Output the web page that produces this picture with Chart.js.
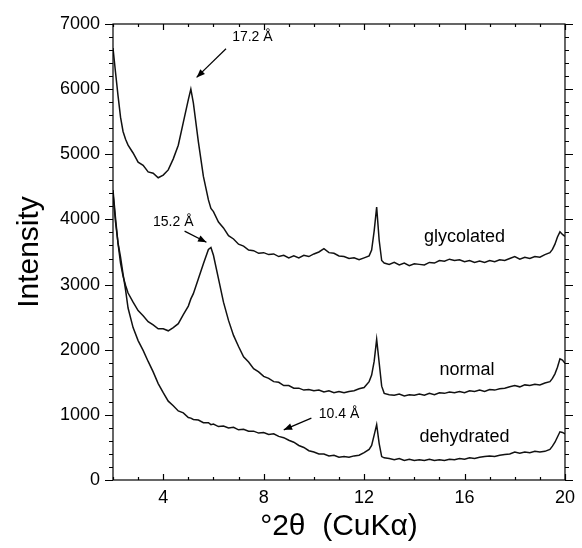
<!DOCTYPE html>
<html>
<head>
<meta charset="utf-8">
<script src="https://cdn.jsdelivr.net/npm/chart.js@4"></script>
<style>
  html, body { margin: 0; background: #fff; }
  canvas { display: block; }
</style>
</head>
<body>
<canvas id="xrd" width="582" height="548"></canvas>
<script>
// ===== Data =====
const twoTheta = [
  2.0, 2.1, 2.2, 2.3, 2.4, 2.5, 2.6, 2.8, 3.0, 3.2,
  3.4, 3.6, 3.8, 4.0, 4.2, 4.4, 4.6, 4.8, 5.0, 5.1,
  5.2, 5.4, 5.6, 5.8, 5.9, 6.0, 6.2, 6.4, 6.6, 6.8,
  7.0, 7.2, 7.4, 7.6, 7.8, 8.0, 8.2, 8.4, 8.6, 8.8,
  9.0, 9.2, 9.4, 9.6, 9.8, 10.0, 10.2, 10.4, 10.6, 10.8,
  11.0, 11.2, 11.4, 11.6, 11.8, 12.0, 12.2, 12.3, 12.4, 12.5,
  12.6, 12.7, 12.8, 13.0, 13.2, 13.4, 13.6, 13.8, 14.0, 14.2,
  14.4, 14.6, 14.8, 15.0, 15.2, 15.4, 15.6, 15.8, 16.0, 16.2,
  16.4, 16.6, 16.8, 17.0, 17.2, 17.4, 17.6, 17.8, 18.0, 18.2,
  18.4, 18.6, 18.8, 19.0, 19.2, 19.4, 19.5, 19.6, 19.7, 19.8,
  19.9, 20.0
];
const glycolated = [
  6630, 6260, 5900, 5570, 5350, 5230, 5140, 5020, 4880, 4830,
  4730, 4710, 4640, 4680, 4760, 4930, 5140, 5490, 5840, 6000,
  5790, 5190, 4660, 4300, 4170, 4120, 3960, 3870, 3750, 3700,
  3620, 3590, 3530, 3520, 3480, 3490, 3460, 3470, 3430, 3450,
  3410, 3440, 3410, 3450, 3430, 3470, 3500, 3550, 3490, 3480,
  3440, 3430, 3400, 3410, 3380, 3410, 3440, 3530, 3820, 4190,
  3680, 3370, 3330, 3310, 3340, 3300, 3330, 3290, 3320, 3310,
  3300, 3340, 3330, 3370, 3360, 3390, 3370, 3380, 3350, 3370,
  3340, 3360, 3340, 3370, 3350, 3380, 3370, 3400, 3430, 3390,
  3420, 3400, 3430, 3420, 3460, 3490, 3540, 3620, 3730, 3810,
  3770, 3740
];
const normal = [
  4450, 4020, 3630, 3330, 3130, 2990, 2870, 2730, 2600, 2520,
  2430, 2380, 2320, 2320, 2290, 2340, 2400, 2540, 2670, 2780,
  2860, 3090, 3320, 3540, 3570, 3450, 3090, 2730, 2450, 2220,
  2050, 1890, 1810, 1710, 1660, 1590, 1560, 1510, 1500, 1450,
  1450, 1410, 1410, 1380, 1390, 1370, 1380, 1350, 1370, 1340,
  1360, 1340, 1360, 1370, 1400, 1420, 1510, 1610, 1820, 2160,
  1800, 1440, 1330, 1310, 1300, 1320, 1290, 1310, 1300, 1320,
  1300, 1330, 1310, 1340, 1330, 1350, 1340, 1360, 1340, 1370,
  1360, 1380, 1360, 1390, 1380, 1400, 1410, 1430, 1450, 1430,
  1460, 1450, 1470, 1460, 1490, 1510, 1560, 1630, 1730, 1860,
  1840, 1790
];
const dehydrated = [
  4400, 3960, 3640, 3420, 3160, 2920, 2640, 2340, 2140, 1990,
  1820, 1660, 1480, 1340, 1210, 1140, 1060, 1030, 960, 950,
  930, 920, 880, 880, 850, 860, 820, 830, 800, 810,
  770, 780, 750, 750, 720, 730, 700, 710, 670, 650,
  610, 580, 530, 500, 450, 430, 400, 400, 370, 380,
  350, 360, 350, 370, 380, 420, 470, 530, 690, 850,
  560, 360, 340, 330, 310, 330, 300, 320, 300, 310,
  300, 320, 300, 310, 300, 320, 310, 330, 320, 340,
  330, 350, 360, 370, 360, 380, 390, 400, 430, 410,
  430, 420, 440, 430, 440, 470, 520, 580, 660, 740,
  730, 710
];
const seriesNames = ["glycolated", "normal", "dehydrated"];
const xTicks = [4, 8, 12, 16, 20];
const yTicks = [0, 1000, 2000, 3000, 4000, 5000, 6000, 7000];
const peakLabels = ["17.2 Å", "15.2 Å", "10.4 Å"];

// ===== Annotation placement (in data units) =====
const namePos = [[16.0, 3730], [16.1, 1690], [16.0, 660]];
const peakTextPos = [[7.55, 6800], [4.4, 3960], [11.0, 1010]];
const peakArrows = [
  [[6.5, 6620], [5.33, 6180]],
  [[4.85, 3820], [5.72, 3650]],
  [[9.9, 950], [8.8, 770]]
];
const X_MINOR = 1, Y_MINOR = 200;

const FONT = '"Liberation Sans", Arial, Helvetica, sans-serif';

function arrow(ctx, x0, y0, x1, y1) {
  ctx.beginPath(); ctx.moveTo(x0, y0); ctx.lineTo(x1, y1); ctx.stroke();
  const a = Math.atan2(y1 - y0, x1 - x0), h = 9, w = 0.38;
  ctx.beginPath();
  ctx.moveTo(x1, y1);
  ctx.lineTo(x1 - h * Math.cos(a - w), y1 - h * Math.sin(a - w));
  ctx.lineTo(x1 - h * Math.cos(a + w), y1 - h * Math.sin(a + w));
  ctx.closePath(); ctx.fill();
}

// frame + inward x ticks, outward y ticks, labels and arrows
const decor = {
  id: "decor",
  afterDatasetsDraw(chart) {
    const { ctx, scales: { x, y } } = chart;
    ctx.save();
    ctx.fillStyle = "#000"; ctx.strokeStyle = "#000"; ctx.lineWidth = 1.2;
    ctx.textAlign = "center"; ctx.textBaseline = "middle";
    ctx.font = `18px ${FONT}`;
    seriesNames.forEach((n, i) => ctx.fillText(n, x.getPixelForValue(namePos[i][0]), y.getPixelForValue(namePos[i][1])));
    ctx.font = `14px ${FONT}`;
    peakLabels.forEach((t, i) => {
      ctx.fillText(t, x.getPixelForValue(peakTextPos[i][0]), y.getPixelForValue(peakTextPos[i][1]));
      const [p0, p1] = peakArrows[i];
      arrow(ctx, x.getPixelForValue(p0[0]), y.getPixelForValue(p0[1]), x.getPixelForValue(p1[0]), y.getPixelForValue(p1[1]));
    });
    ctx.restore();
  },
  afterDraw(chart) {
    const { ctx, chartArea: a, scales: { x, y } } = chart;
    ctx.save();
    ctx.strokeStyle = "#000"; ctx.lineWidth = 1.2;
    ctx.strokeRect(a.left, a.top, a.right - a.left, a.bottom - a.top);
    ctx.beginPath();
    for (let v = x.min; v <= x.max + 1e-9; v += X_MINOR) {
      const px = Math.round(x.getPixelForValue(v)) + 0.5;
      const len = xTicks.includes(v) ? 6 : 3;
      ctx.moveTo(px, a.bottom); ctx.lineTo(px, a.bottom - len);
      ctx.moveTo(px, a.top); ctx.lineTo(px, a.top + len);
    }
    for (let v = y.min; v <= y.max; v += Y_MINOR) {
      const py = Math.round(y.getPixelForValue(v)) + 0.5;
      const len = yTicks.includes(v) ? 8 : 4;
      ctx.moveTo(a.left - len, py); ctx.lineTo(a.left, py);
      ctx.moveTo(a.right, py); ctx.lineTo(a.right + len, py);
    }
    ctx.stroke();
    ctx.restore();
  }
};

new Chart(document.getElementById("xrd"), {
  type: "line",
  data: {
    datasets: [glycolated, normal, dehydrated].map((ys, i) => ({
      label: seriesNames[i],
      data: twoTheta.map((t, j) => ({ x: t, y: ys[j] })),
      borderColor: "#111", borderWidth: 1.5, pointRadius: 0, tension: 0, fill: false
    }))
  },
  options: {
    responsive: false, animation: false,
    layout: { padding: { left: 0, right: 14, top: 24, bottom: 0 } },
    plugins: { legend: { display: false }, tooltip: { enabled: false } },
    scales: {
      x: {
        type: "linear", min: 2, max: 20,
        afterBuildTicks: s => { s.ticks = xTicks.map(v => ({ value: v })); },
        afterFit: s => { s.height = 68; },
        grid: { display: false, drawTicks: false }, border: { display: false },
        ticks: { padding: 7, color: "#000", font: { family: FONT, size: 18 }, maxRotation: 0, autoSkip: false, callback: v => String(v) },
        title: { display: true, text: "°2θ  (CuKα)", color: "#000", font: { family: FONT, size: 30 }, padding: { top: 0, bottom: 3 } }
      },
      y: {
        min: 0, max: 7000,
        afterBuildTicks: s => { s.ticks = yTicks.map(v => ({ value: v })); },
        afterFit: s => { s.width = 113; },
        grid: { display: false, drawTicks: false }, border: { display: false },
        ticks: { padding: 13, color: "#000", font: { family: FONT, size: 18 }, callback: v => String(v) },
        title: { display: true, text: "Intensity", color: "#000", font: { family: FONT, size: 30 }, padding: { top: 12, bottom: 0 } }
      }
    }
  },
  plugins: [decor]
});
</script>
</body>
</html>
